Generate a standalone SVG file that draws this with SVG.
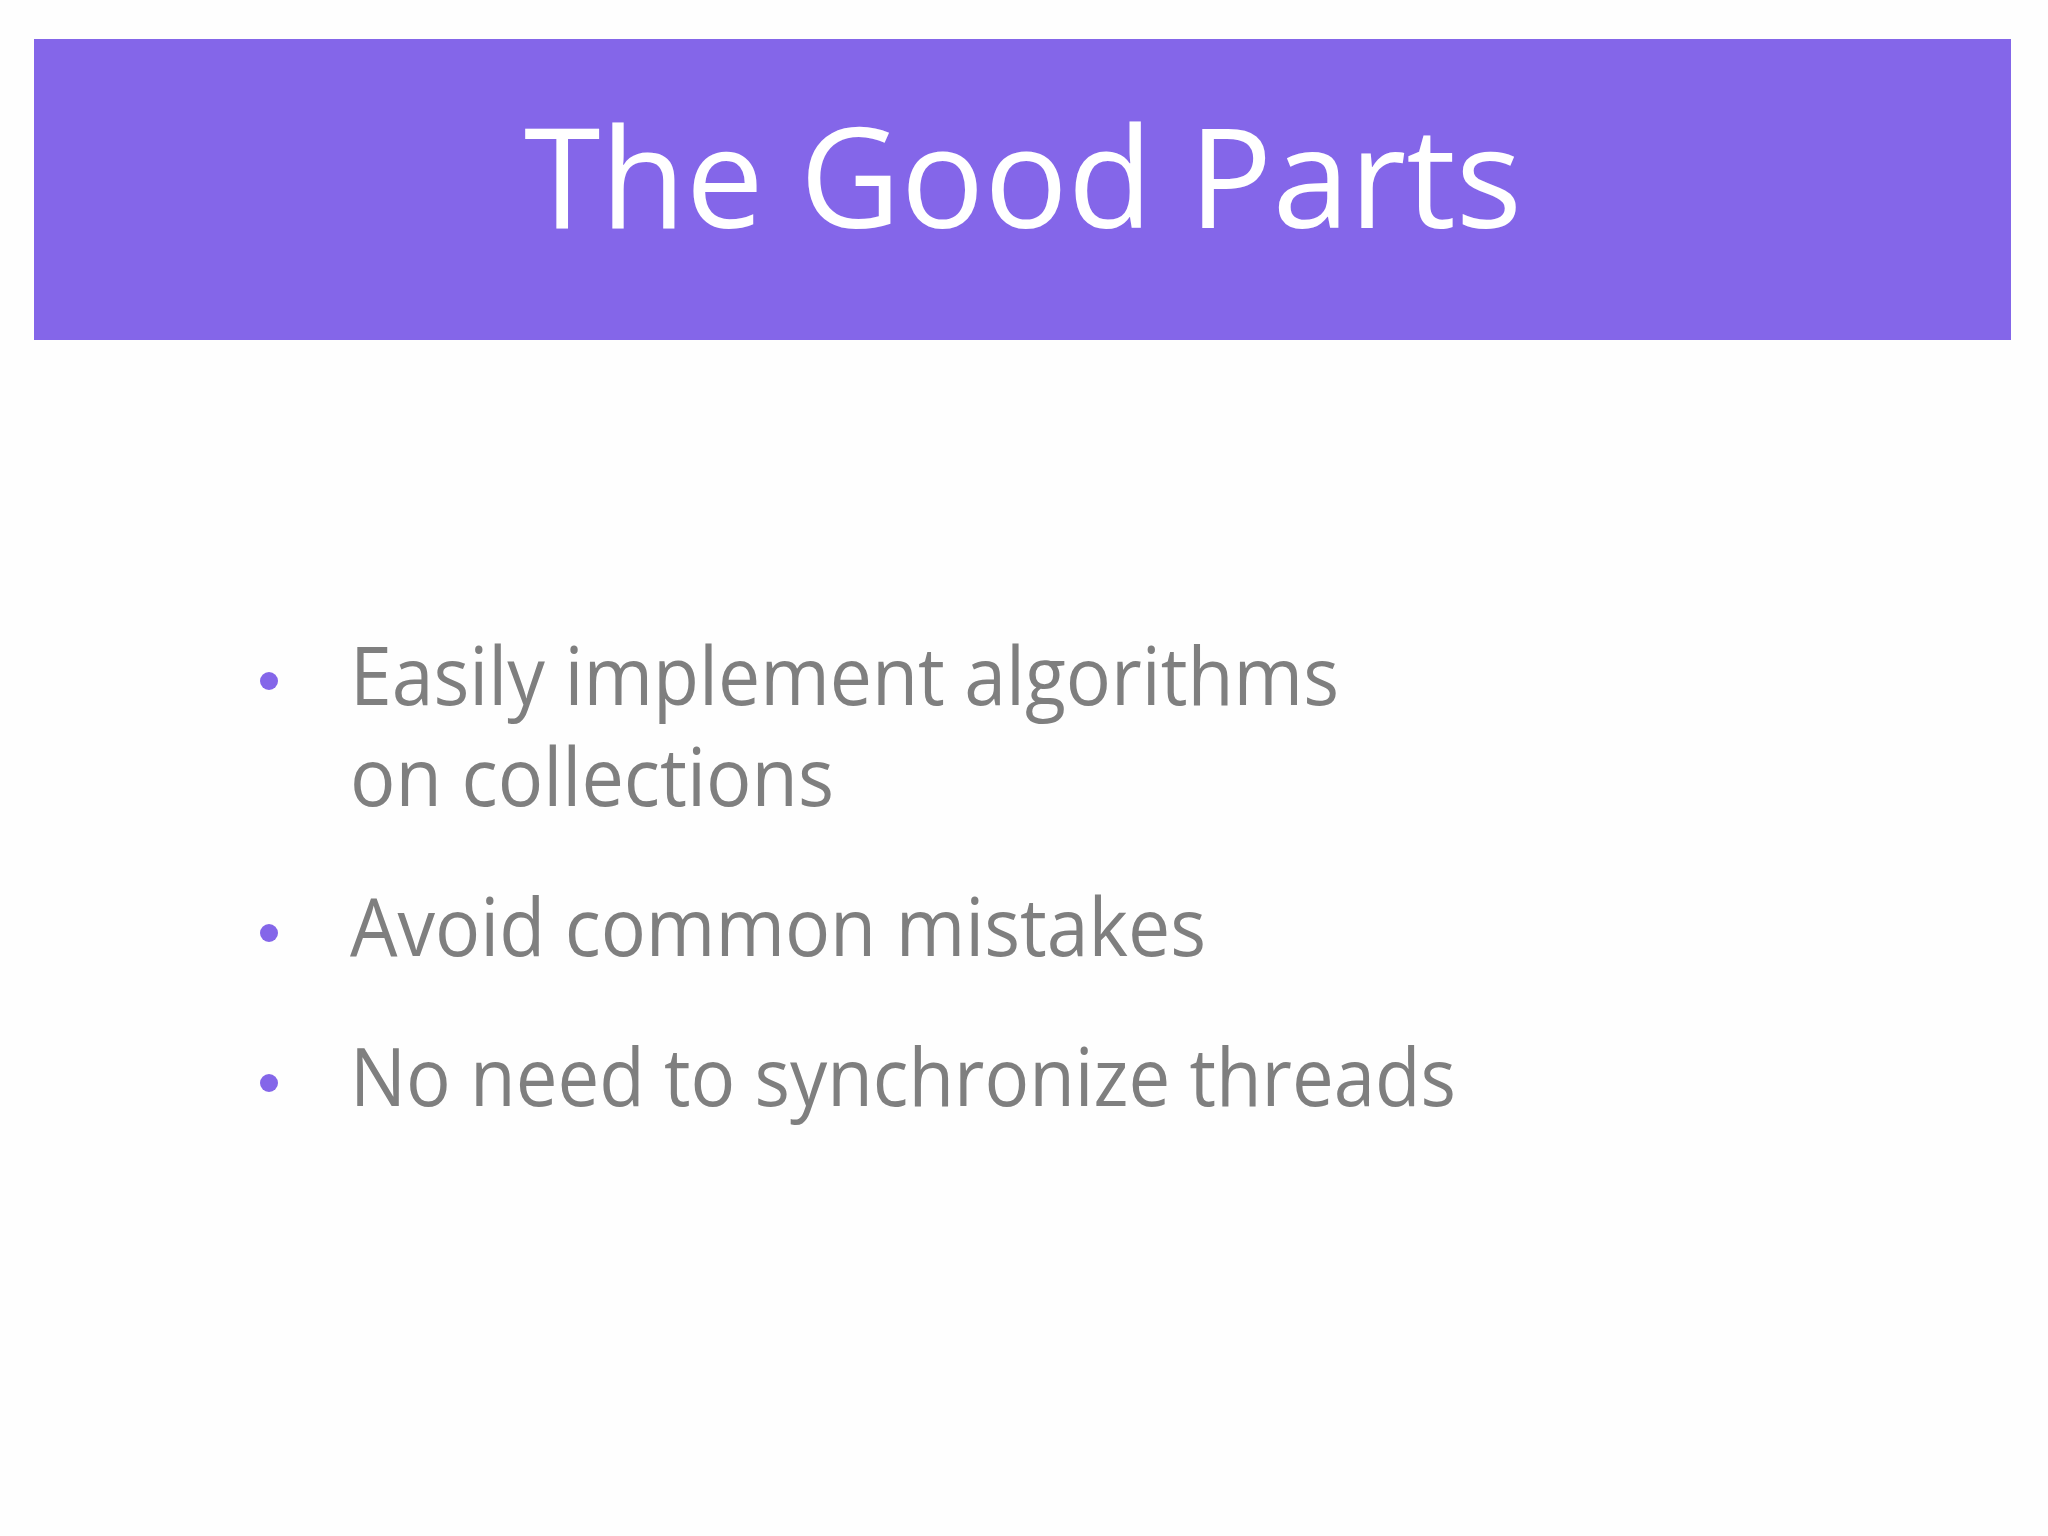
<svg xmlns="http://www.w3.org/2000/svg" width="2048" height="1536" viewBox="0 0 2048 1536">
<style>
.t{font-family:"Open Sans","Liberation Sans",sans-serif;fill:#7f7f7f;font-size:80px}
.d{fill:#8466e9}
</style>
<rect width="2048" height="1536" fill="#fefefe"/>
<g id="header">
<rect x="34" y="39" width="1977" height="301" fill="#8466e9"/>
<text x="1023" y="228" text-anchor="middle" font-family="Open Sans, Liberation Sans, sans-serif" font-size="140" fill="#ffffff" textLength="998" lengthAdjust="spacingAndGlyphs">The Good Parts</text>
</g>
<g id="bullet1"><circle class="d" cx="269" cy="681" r="9"/><text class="t" x="350" y="705" textLength="989" lengthAdjust="spacingAndGlyphs">Easily implement algorithms</text><text class="t" x="350" y="806" textLength="484" lengthAdjust="spacingAndGlyphs">on collections</text></g>
<g id="bullet2"><circle class="d" cx="269" cy="933" r="9"/><text class="t" x="350" y="956" textLength="856" lengthAdjust="spacingAndGlyphs">Avoid common mistakes</text></g>
<g id="bullet3"><circle class="d" cx="269" cy="1083" r="9"/><text class="t" x="350" y="1106" textLength="1106" lengthAdjust="spacingAndGlyphs">No need to synchronize threads</text></g>
</svg>
